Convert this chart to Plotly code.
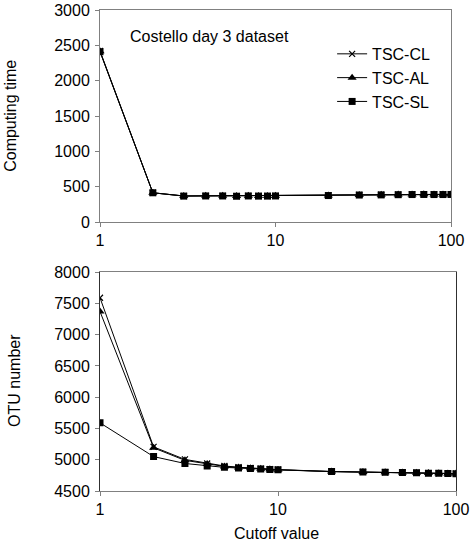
import plotly.graph_objects as go

cutoff = [1, 2, 3, 4, 5, 6, 7, 8, 9, 10, 20, 30, 40, 50, 60, 70, 80, 90, 100]

time_cl = [2420, 415, 370, 372, 372, 368, 372, 370, 370, 372, 378, 385, 387, 390, 392, 393, 392, 392, 393]
time_al = [2415, 415, 370, 372, 372, 368, 372, 370, 370, 372, 378, 385, 387, 390, 392, 393, 392, 392, 393]
time_sl = [2410, 415, 368, 370, 370, 366, 370, 368, 368, 370, 376, 383, 385, 388, 390, 391, 390, 390, 391]

otu_cl = [7590, 5205, 5005, 4940, 4900, 4880, 4868, 4858, 4850, 4842, 4812, 4806, 4800, 4796, 4792, 4786, 4783, 4780, 4778]
otu_al = [7370, 5190, 4990, 4930, 4893, 4876, 4864, 4855, 4847, 4840, 4811, 4805, 4800, 4795, 4791, 4786, 4783, 4780, 4778]
otu_sl = [5590, 5050, 4940, 4900, 4878, 4868, 4858, 4850, 4845, 4838, 4810, 4804, 4798, 4794, 4790, 4785, 4782, 4779, 4777]

names = ["TSC-CL", "TSC-AL", "TSC-SL"]
symbols = ["x-thin", "triangle-up", "square"]
sizes = [6, 8, 7]

FONT = "Liberation Sans, Arial, sans-serif"
FS = 16

fig = go.Figure()
for i, (t, o) in enumerate(zip([time_cl, time_al, time_sl], [otu_cl, otu_al, otu_sl])):
    mk = dict(symbol=symbols[i], size=sizes[i], color="black",
              line=dict(color="black", width=1.2 if i == 0 else 0))
    fig.add_trace(go.Scatter(x=cutoff, y=t, name=names[i], mode="lines+markers",
                             line=dict(color="black", width=1), marker=mk,
                             xaxis="x", yaxis="y", showlegend=True))
    fig.add_trace(go.Scatter(x=cutoff, y=o, name=names[i], mode="lines+markers",
                             line=dict(color="black", width=1), marker=mk,
                             xaxis="x2", yaxis="y2", showlegend=False))

axis_common = dict(showgrid=False, zeroline=False, ticks="outside", ticklen=4,
                   tickcolor="#808080", mirror=True, showline=True, automargin=False,
                   tickfont=dict(family=FONT, size=FS, color="black"))

fig.update_layout(
    width=474, height=548,
    margin=dict(l=100, r=18, t=10, b=57),
    paper_bgcolor="white", plot_bgcolor="white",
    font=dict(family=FONT, size=FS, color="black"),
    xaxis=dict(type="log", range=[0, 2], tickvals=[1, 10, 100], ticktext=["1", "10", "100"],
               domain=[0, 0.986], anchor="y", linecolor="#808080", **axis_common),
    yaxis=dict(range=[0, 3000], tickvals=[0, 500, 1000, 1500, 2000, 2500, 3000],
               domain=[0.559, 1], anchor="x", linecolor="#808080", ticklabelstandoff=2,
               **axis_common),
    xaxis2=dict(type="log", range=[0, 2], tickvals=[1, 10, 100], ticktext=["1", "10", "100"],
                domain=[0, 1], anchor="y2", linecolor="#808080", **axis_common),
    yaxis2=dict(range=[4500, 8000], tickvals=[4500, 5000, 5500, 6000, 6500, 7000, 7500, 8000],
                domain=[0, 0.455], anchor="x2", linecolor="#303030", ticklabelstandoff=2,
                **axis_common),
    legend=dict(x=0.652, y=0.944, xanchor="left", yanchor="top", bgcolor="rgba(0,0,0,0)",
                font=dict(family=FONT, size=FS), itemwidth=30, tracegroupgap=0),
    annotations=[
        dict(text="Costello day 3 dataset", xref="paper", yref="paper",
             x=0.078, y=0.945, xanchor="left", yanchor="middle", showarrow=False,
             font=dict(family=FONT, size=FS)),
        dict(text="Computing time", xref="paper", yref="paper", x=-0.25, y=0.78,
             xanchor="center", yanchor="middle", textangle=-90, showarrow=False,
             font=dict(family=FONT, size=FS)),
        dict(text="OTU number", xref="paper", yref="paper", x=-0.24, y=0.23,
             xanchor="center", yanchor="middle", textangle=-90, showarrow=False,
             font=dict(family=FONT, size=FS)),
        dict(text="Cutoff value", xref="paper", yref="paper", x=0.497, y=-0.088,
             xanchor="center", yanchor="middle", showarrow=False,
             font=dict(family=FONT, size=FS)),
    ],
)

fig.write_html("out.html", config={"displayModeBar": False},
               post_script="document.body.style.margin='0';document.body.style.padding='0';")
